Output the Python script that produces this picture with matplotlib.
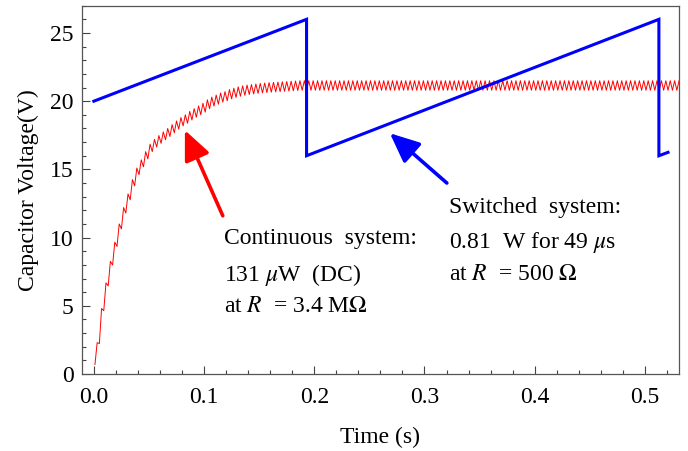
import numpy as np
import matplotlib
matplotlib.use("Agg")
import matplotlib.pyplot as plt
from matplotlib.ticker import MultipleLocator

plt.rcParams['font.family'] = ['Liberation Serif', 'DejaVu Serif']
plt.rcParams['mathtext.fontset'] = 'stix'

# Switched system (blue sawtooth)
blue_t = [0.0, 0.193, 0.193, 0.5127, 0.5127, 0.521]
blue_v = [20.0, 26.0, 16.0, 26.0, 16.0, 16.25]

# Continuous system (red rippled charging curve): values per ripple cycle
red_start = 0.001
red_period = 0.004
red_trough = [0.7, 2.23, 4.64, 6.46, 7.99, 9.35, 10.64, 11.8, 12.77, 13.79,
              14.61, 15.19, 15.77, 16.3, 16.64, 16.91, 17.17, 17.41, 17.68, 17.95,
              18.19, 18.38, 18.62, 18.82, 19.01, 19.2, 19.45, 19.64, 19.78, 19.93,
              20.03, 20.17, 20.27, 20.36, 20.43, 20.49, 20.53, 20.57, 20.61, 20.63,
              20.66, 20.68, 20.7, 20.72, 20.74, 20.76, 20.78,
              20.8, 20.8, 20.8, 20.8, 20.8, 20.8, 20.8, 20.8, 20.8, 20.8,
              20.8, 20.8, 20.8, 20.8, 20.8, 20.8, 20.8, 20.8, 20.8, 20.8,
              20.8, 20.8, 20.8, 20.8, 20.8, 20.8, 20.8, 20.8, 20.8, 20.8,
              20.8, 20.8, 20.8, 20.8, 20.8, 20.8, 20.8, 20.8, 20.8, 20.8,
              20.8, 20.8, 20.8, 20.8, 20.8, 20.8, 20.8, 20.8, 20.8, 20.8,
              20.8, 20.8, 20.8, 20.8, 20.8, 20.8, 20.8, 20.8, 20.8, 20.8,
              20.8, 20.8, 20.8, 20.8, 20.8, 20.8, 20.8, 20.8, 20.8, 20.8,
              20.8, 20.8, 20.8, 20.8, 20.8, 20.8, 20.8, 20.8, 20.8, 20.8,
              20.8, 20.8, 20.8, 20.8, 20.8, 20.8, 20.8, 20.8, 20.8, 20.8]
red_peak = [2.3, 4.8, 6.68, 8.26, 9.67, 11.0, 12.2, 13.2, 14.25, 15.1,
            15.7, 16.3, 16.85, 17.2, 17.48, 17.75, 18.0, 18.28, 18.55, 18.8,
            19.0, 19.25, 19.45, 19.65, 19.85, 20.1, 20.3, 20.45, 20.6, 20.7,
            20.85, 20.95, 21.05, 21.12, 21.18, 21.22, 21.26, 21.3, 21.33, 21.36,
            21.38, 21.4, 21.42, 21.44, 21.46, 21.48,
            21.5, 21.5, 21.5, 21.5, 21.5, 21.5, 21.5, 21.5, 21.5, 21.5,
            21.5, 21.5, 21.5, 21.5, 21.5, 21.5, 21.5, 21.5, 21.5, 21.5,
            21.5, 21.5, 21.5, 21.5, 21.5, 21.5, 21.5, 21.5, 21.5, 21.5,
            21.5, 21.5, 21.5, 21.5, 21.5, 21.5, 21.5, 21.5, 21.5, 21.5,
            21.5, 21.5, 21.5, 21.5, 21.5, 21.5, 21.5, 21.5, 21.5, 21.5,
            21.5, 21.5, 21.5, 21.5, 21.5, 21.5, 21.5, 21.5, 21.5, 21.5,
            21.5, 21.5, 21.5, 21.5, 21.5, 21.5, 21.5, 21.5, 21.5, 21.5,
            21.5, 21.5, 21.5, 21.5, 21.5, 21.5, 21.5, 21.5, 21.5, 21.5,
            21.5, 21.5, 21.5, 21.5, 21.5, 21.5, 21.5, 21.5, 21.5, 21.5]

x_ticks = [0.0, 0.1, 0.2, 0.3, 0.4, 0.5]
x_tick_labels = ['0.0', '0.1', '0.2', '0.3', '0.4', '0.5']
y_ticks = [0, 5, 10, 15, 20, 25]

n = min(len(red_trough), len(red_peak))
red_v = np.column_stack((red_trough[:n], red_peak[:n])).ravel()
red_t = red_start + np.arange(2 * n) * (red_period / 2)

fig = plt.figure(figsize=(6.88, 4.51), dpi=100)
ax = fig.add_axes([0.1188, 0.1707, 0.8682, 0.8167])

ax.plot(red_t, red_v, color='red', lw=0.7, zorder=2)
ax.plot(blue_t, blue_v, color='#0000ff', lw=2.2, zorder=3, solid_joinstyle='miter')

ax.set_xlim(-0.011, 0.531)
ax.set_ylim(0, 27)
ax.set_xticks(x_ticks)
ax.set_xticklabels(x_tick_labels)
ax.set_yticks(y_ticks)
ax.xaxis.set_minor_locator(MultipleLocator(0.02))
ax.yaxis.set_minor_locator(MultipleLocator(1))
ax.tick_params(which='both', direction='in', top=False, right=False,
               labelsize=17, colors='#444444', labelcolor='black')
ax.tick_params(axis='x', which='major', length=5.5, width=0.8, pad=9)
ax.tick_params(axis='y', which='major', length=5.5, width=0.8, pad=6)
ax.tick_params(which='minor', length=3, width=0.8)
for s in ax.spines.values():
    s.set_color('#555555')
    s.set_linewidth(0.9)

ax.set_xlabel('Time (s)', fontsize=17, labelpad=14)
ax.set_ylabel('Capacitor Voltage(V)', fontsize=17, labelpad=8)

ax.annotate('', xy=(0.0826, 17.87), xytext=(0.117, 11.6),
            arrowprops=dict(arrowstyle='-|>,head_length=0.9,head_width=0.4',
                            color='red', lw=2.6, mutation_scale=20,
                            shrinkA=0, shrinkB=0))
ax.annotate('', xy=(0.2686, 17.65), xytext=(0.3203, 14.0),
            arrowprops=dict(arrowstyle='-|>,head_length=0.9,head_width=0.4',
                            color='#0000ff', lw=2.6, mutation_scale=20,
                            shrinkA=0, shrinkB=0))

tfs = 17
ax.text(0.118, 9.93, 'Continuous  system:', fontsize=tfs, va='center', ha='left')
ax.text(0.118, 7.28, r'131 $\mu$W  (DC)', fontsize=tfs, va='center', ha='left')
ax.text(0.118, 4.93, r'at $R$  = 3.4 M$\Omega$', fontsize=tfs, va='center', ha='left')
ax.text(0.322, 12.2, 'Switched  system:', fontsize=tfs, va='center', ha='left')
ax.text(0.322, 9.63, r'0.81  W for 49 $\mu$s', fontsize=tfs, va='center', ha='left')
ax.text(0.322, 7.28, r'at $R$  = 500 $\Omega$', fontsize=tfs, va='center', ha='left')

fig.savefig('out.png', dpi=100)
